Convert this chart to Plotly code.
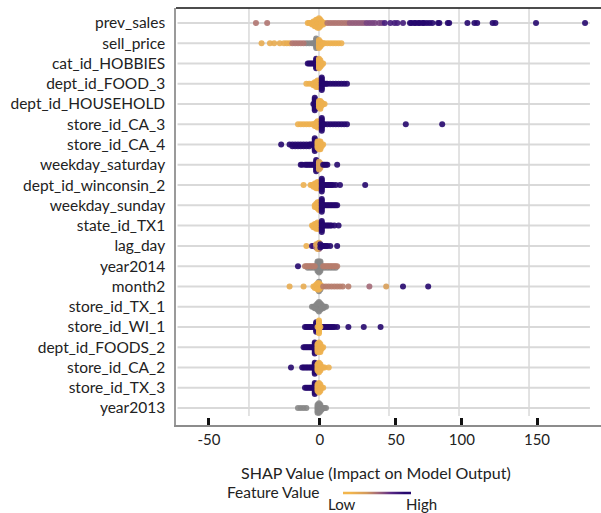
import plotly.graph_objects as go

# Features in display order (top to bottom)
FEATURES = [
    "prev_sales", "sell_price", "cat_id_HOBBIES", "dept_id_FOOD_3", "dept_id_HOUSEHOLD",
    "store_id_CA_3", "store_id_CA_4", "weekday_saturday", "dept_id_winconsin_2", "weekday_sunday",
    "state_id_TX1", "lag_day", "year2014", "month2", "store_id_TX_1", "store_id_WI_1",
    "dept_id_FOODS_2", "store_id_CA_2", "store_id_TX_3", "year2013",
]

# SHAP values per feature, grouped by normalised feature value (None = no value, drawn grey)
prev_sales = [
    (0.45, [-45, -37]),
    (0.05, [-8, -7, -6, -5, -5, -4, -4, -4, -3, -3, -3, -3, -2, -2, -2, -2, -2,
            -1, -1, -1, -1, -1, -1, 0, 0, 0, 0, 0, 0, 0, 1, 1, 1, 1, 1, 2, 2, 2, 3, 3, 4]),
    (0.45, [6, 8, 10, 12, 14, 16, 18, 20]),
    (0.55, [22, 24, 26, 28, 30, 32]),
    (0.65, [34, 36, 38, 40, 43, 45]),
    (0.85, [47, 51, 54, 56, 60]),
    (1.0, [65, 66, 68, 69, 71, 72, 74, 75, 77, 79, 81, 85, 86, 92, 93,
           106, 111, 113, 124, 126, 155, 190]),
]
sell_price = [
    (0.1, [-41, -35, -32, -28, -25, -23, -21]),
    (0.45, [-19, -17, -15, -13, -11]),
    (None, [-9, -7, -5, -4, -2, -2, -2, -2, -2, -2, -2]),
    (0.05, [0, 0, 0, 0, 0, 0, 1, 1, 1, 1, 2, 2, 3, 4, 6, 8, 10, 12, 14, 16]),
]
cat_id_hobbies = [
    (1.0, [-8, -7, -6, -5, -4, -3, -2, -2, -2, -2, -2, -2, -2]),
    (0.05, [0, 0, 0, 0, 0, 0, 0, 1, 1, 1, 1, 1, 2, 2, 3]),
]
dept_food_3 = [
    (0.05, [-9, -7, -5, -4, -4, -3, -3, -3, -2, -2, -2, -2, -1, -1, -1, -1, -1, 0, 0, 0, 0]),
    (1.0, [2, 2, 2, 2, 2, 2, 2, 2, 2, 3, 4, 5, 6, 8, 10, 12, 14, 16, 18, 20]),
]
dept_household = [
    (1.0, [-4, -3, -3, -3, -3, -3, -3, -3, -3, -3, -2]),
    (0.05, [0, 0, 0, 0, 0, 1, 1, 1, 1, 1, 1, 2, 2, 2, 3, 4]),
]
store_ca_3 = [
    (0.05, [-15, -13, -11, -9, -7, -5, -4, -3, -3, -2, -2, -2, -1, -1, -1, -1, -1, 0, 0, 0]),
    (1.0, [2, 2, 2, 2, 2, 2, 2, 2, 2, 3, 4, 6, 8, 10, 12, 14, 16, 18, 20, 62, 88]),
]
store_ca_4 = [
    (1.0, [-27, -21, -19, -19, -17, -17, -15, -15, -13, -13, -11, -11, -9, -9, -7, -7,
           -6, -5, -4, -3, -3, -3, -3, -3, -3, -3, -3, -3]),
    (0.05, [-1, -1, -1, -1, -1, 0, 0, 0, 0, 0, 0, 1, 1, 1, 1, 1, 1, 2, 2, 3]),
]
weekday_saturday = [
    (1.0, [-13, -12, -10, -9, -8, -7, -6, -5, -4, -3, -2, -2, -2, -2, -2, -2, -2, -2]),
    (0.2, [0, 0, 0, 0, 0, 0, 1, 1, 1, 1]),
    (1.0, [3, 4, 5, 6, 13]),
]
dept_winconsin_2 = [
    (0.05, [-11, -6, -5, -4, -4, -3, -3, -3, -2, -2, -2, -2, -1, -1, -1, -1, -1, 0, 0, 0, 0]),
    (1.0, [2, 2, 2, 2, 2, 2, 2, 2, 2, 3, 4, 5, 6, 7, 8, 9, 10, 12, 15, 33]),
]
weekday_sunday = [
    (0.05, [-3, -3, -2, -2, -2, -1, -1, -1, -1, -1, 0, 0, 0, 0, 0, 0, 1, 1, 1]),
    (1.0, [2, 2, 2, 2, 2, 2, 2, 2, 2, 3, 4, 5, 6, 7, 8, 9, 10, 11, 12, 13]),
]
state_tx1 = [
    (0.05, [-5, -4, -4, -3, -3, -3, -2, -2, -2, -2, -1, -1, -1, -1, -1, 0, 0, 0, 0, 1]),
    (1.0, [2, 2, 2, 2, 2, 2, 2, 2, 3, 4, 5, 6, 7, 8, 9, 11, 14]),
]
lag_day = [
    (0.05, [-9]),
    (0.9, [-5, -4, -3]),
    (0.5, [-2, -2, -1, -1, -1, 0, 0, 0, 0]),
    (0.15, [-2, -1, 0, 1]),
    (1.0, [1, 1, 2, 3, 4, 5, 6, 8, 13]),
]
year2014 = [
    (1.0, [-15]),
    (0.42, [-10, -9, -8, -7, -6, -5, -4, -3, 3, 4, 5, 6, 7, 8,
            9, 10, 11, 12, 13]),
    (None, [-8, -6, -4, 4, 6, 8, 10, 12]),
    (None, [-2, -2, -1, -1, -1, -1, -1, -1, -1, 0, 0, 0, 0, 0, 0, 0, 0,
            1, 1, 1, 1, 1, 1, 1, 2, 2]),
]
month2 = [
    (0.1, [-21, -11]),
    (0.05, [-4, -3, -3, -2, -2, -2, -1, -1, -1, -1, -1, 0, 0, 0, 0, 0, 1, 1, 1, 2]),
    (None, [0, 0, 1]),
    (0.42, [3, 5, 7, 9, 11, 13, 15, 17, 21]),
    (0.5, [36]),
    (0.25, [48]),
    (1.0, [60, 78]),
]
store_tx_1 = [
    (None, [-5, -4, -3, -3, -2, -2, -2, -1, -1, -1, -1, -1, 0, 0, 0, 0, 0, 0, 0,
            1, 1, 1, 1, 1, 2, 2, 2, 3, 3, 4, 5]),
]
store_wi_1 = [
    (1.0, [-10, -9, -8, -7, -6, -5, -4, -2, -2, -2, -2, -2, -2, -2,
           2, 3, 4, 5, 6, 7, 8, 9, 10, 11, 13, 21, 32, 44]),
    (0.0, [-1, 0, 0, 0, 0, 0, 0, 0, 0, 0, 1]),
]
dept_foods_2 = [
    (1.0, [-11, -10, -9, -8, -7, -6, -5, -4, -3, -3, -3, -3, -3, -3, -3, -3]),
    (0.05, [-1, -1, -1, -1, -1, -1, 0, 0, 0, 0, 0, 0, 0, 1, 1, 1, 1, 1, 1, 2, 2, 3]),
]
store_ca_2 = [
    (1.0, [-20, -12, -11, -10, -9, -8, -7, -6, -5, -4, -3, -3, -3, -3, -3, -3, -3, -3]),
    (0.05, [-1, -1, -1, -1, -1, 0, 0, 0, 0, 0, 0, 0, 1, 1, 1, 1, 1, 2, 3, 4, 7]),
]
store_tx_3 = [
    (1.0, [-10, -9, -8, -7, -6, -5, -4, -3, -3, -3, -3, -3, -3, -3, -3]),
    (0.05, [-1, -1, -1, -1, -1, 0, 0, 0, 0, 0, 0, 0, 1, 1, 1, 1, 1, 2, 3]),
]
year2013 = [
    (None, [-15, -13, -11, -9, -1, -1, -1, -1, -1, -1, 0, 0, 0, 0, 0, 0, 0,
            1, 1, 1, 1, 1, 2, 2, 3, 4, 5]),
]

ROWS = [prev_sales, sell_price, cat_id_hobbies, dept_food_3, dept_household,
        store_ca_3, store_ca_4, weekday_saturday, dept_winconsin_2, weekday_sunday,
        state_tx1, lag_day, year2014, month2, store_tx_1, store_wi_1,
        dept_foods_2, store_ca_2, store_tx_3, year2013]

GRID_AT = [-50, 0, 50, 100, 150]
TICK_TEXT = ["-50", "0", "50", "100", "150"]
TICK_AT = [-78.6, 0.7, 55, 102, 155.7]
LEGEND_STEPS = [0.0, 0.25, 0.5, 0.75, 1.0]

COLORSCALE = [[0.0, "#f2b54c"], [0.3, "#d39a5c"], [0.5, "#a46a78"],
              [0.75, "#5a2a86"], [1.0, "#26086e"]]
GREY = "#878787"

W, H = 601, 513


def fx(px):
    return px / W


def fy(py):
    return (H - py) / H


def swarm(groups, row, step=0.078):
    """Stack points sharing a (rounded) SHAP value vertically around the row."""
    counts = {}
    out = []
    for val, shaps in groups:
        for s in shaps:
            k = round(s)
            n = counts.get(k, 0)
            counts[k] = n + 1
            off = ((n + 1) // 2) * step * (1 if n % 2 else -1)
            out.append((s, row + off, val))
    return out


cx, cy, cv, gx, gy = [], [], [], [], []
for i, groups in enumerate(ROWS):
    for s, y, v in swarm(groups, i):
        if v is None:
            gx.append(s)
            gy.append(y)
        else:
            cx.append(s)
            cy.append(y)
            cv.append(v)

x_lo, x_hi = -102.1, 201.4
fig = go.Figure()

# row guide lines
for i in range(len(FEATURES)):
    fig.add_shape(type="line", x0=-101, x1=193.5, y0=i, y1=i, layer="below",
                  xref="x", yref="y", line=dict(color="#d9d9d9", width=2))
for g in GRID_AT:
    fig.add_shape(type="line", x0=g, x1=g, y0=-0.72, y1=19.4, layer="below",
                  xref="x", yref="y", line=dict(color="#d9d9d9", width=1.5))
fig.add_shape(type="line", x0=fx(176), x1=1, xref="paper", y0=fy(8), y1=fy(8), yref="paper",
              line=dict(color="#111111", width=1.5))

fig.add_trace(go.Scatter(
    x=gx, y=gy, mode="markers", hoverinfo="skip",
    marker=dict(size=6, color=GREY, opacity=0.9, line=dict(width=0)),
))
fig.add_trace(go.Scatter(
    x=cx, y=cy, mode="markers", hoverinfo="skip",
    marker=dict(size=6, color=cv, cmin=0, cmax=1, colorscale=COLORSCALE, opacity=0.9,
                line=dict(width=0), showscale=False),
))

# feature-value gradient key
fig.add_trace(go.Heatmap(
    z=[LEGEND_STEPS, LEGEND_STEPS], zmin=0, zmax=1, colorscale=COLORSCALE,
    zsmooth="best", showscale=False, hoverinfo="skip", xaxis="x2", yaxis="y2",
))

fig.update_layout(
    width=W, height=H,
    margin=dict(l=0, r=0, t=0, b=0),
    plot_bgcolor="white", paper_bgcolor="white",
    showlegend=False,
    font=dict(family="Lato", color="#222222"),
    xaxis=dict(
        domain=[fx(176), 1], anchor="y",
        range=[x_lo, x_hi], tickvals=TICK_AT, ticktext=TICK_TEXT,
        ticks="inside", ticklen=7, tickwidth=3, tickcolor="#111111",
        showgrid=False, zeroline=False, showline=True,
        linecolor="#8c8c8c", linewidth=2, tickfont=dict(size=15),
    ),
    yaxis=dict(
        domain=[fy(425), fy(8)], anchor="x",
        range=[19.84, -0.74], tickvals=list(range(len(FEATURES))), ticktext=FEATURES,
        ticks="outside", ticklen=6, tickcolor="rgba(0,0,0,0)",
        showgrid=False, zeroline=False, showline=True,
        linecolor="#9a9a9a", linewidth=1.5, tickfont=dict(size=15.5),
    ),
    xaxis2=dict(domain=[fx(343), fx(411)], anchor="y2", visible=False),
    yaxis2=dict(domain=[fy(494.5), fy(491.5)], anchor="x2", visible=False),
    annotations=[
        dict(text="SHAP Value (Impact on Model Output)", x=fx(376), y=fy(472),
             xref="paper", yref="paper", showarrow=False, xanchor="center", yanchor="middle",
             font=dict(size=16)),
        dict(text="Feature Value", x=fx(273), y=fy(492),
             xref="paper", yref="paper", showarrow=False, xanchor="center", yanchor="middle",
             font=dict(size=15.5)),
        dict(text="Low", x=fx(342), y=fy(504),
             xref="paper", yref="paper", showarrow=False, xanchor="center", yanchor="middle",
             font=dict(size=15)),
        dict(text="High", x=fx(421), y=fy(504),
             xref="paper", yref="paper", showarrow=False, xanchor="center", yanchor="middle",
             font=dict(size=15)),
    ],
)

fig.write_html("out.html")
